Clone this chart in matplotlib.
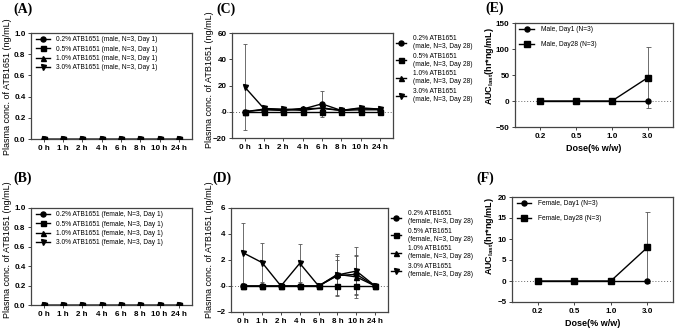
import matplotlib.pyplot as plt

plt.rcParams['font.family'] = ['Liberation Sans', 'DejaVu Sans']

# ---- data ----
time_labels = ['0 h', '1 h', '2 h', '4 h', '6 h', '8 h', '10 h', '24 h']
dose_labels = ['0.2%', '0.5%', '1.0%', '3.0%']
dose_ticks = ['0.2', '0.5', '1.0', '3.0']

# Day 1: nothing detected
male_d1 = [[0, 0, 0, 0, 0, 0, 0, 0]] * 4
female_d1 = [[0, 0, 0, 0, 0, 0, 0, 0]] * 4

# Day 28, rows = 0.2 / 0.5 / 1.0 / 3.0 %
male_d28 = [[0, 1.5, 1.0, 2.0, 6.0, 1.0, 1.5, 1.5],
            [0, 0, 0, 0, 0, 0, 0, 0],
            [0, 2.0, 1.5, 2.5, 2.5, 1.0, 2.5, 2.0],
            [19.0, 2.5, 2.0, 1.0, 3.0, 1.0, 3.0, 2.0]]
male_d28_sd = [[0, 0, 0, 0, 10.0, 0, 0, 0],
               [0, 0, 0, 0, 0, 0, 0, 0],
               [0, 0, 0, 0, 0, 0, 0, 0],
               [33.0, 0, 0, 0, 0, 0, 0, 0]]
female_d28 = [[0, 0, 0, 0, 0, 0.8, 0.9, 0],
              [0, 0, 0, 0, 0, 0, 0, 0],
              [0, 0, 0, 0, 0, 0.9, 0.7, 0],
              [2.55, 1.8, 0, 1.75, 0, 0.85, 1.15, 0]]
female_d28_sd = [[0, 0, 0, 0, 0, 1.5, 1.5, 0],
                 [0, 0, 0, 0, 0, 0, 0, 0],
                 [0, 0, 0, 0, 0, 1.1, 1.6, 0],
                 [2.3, 1.5, 0, 1.45, 0, 1.65, 1.85, 0]]

# AUC last by dose
male_auc_d1 = [0, 0, 0, 0]
male_auc_d28 = [0, 0, 0, 45]
male_auc_d28_sd = [0, 0, 0, 58]
female_auc_d1 = [0, 0, 0, 0]
female_auc_d28 = [0, 0, 0, 8]
female_auc_d28_sd = [0, 0, 0, 8.5]

markers = ['o', 's', '^', 'v']
W, H = 676, 332
fig = plt.figure(figsize=(W / 100, H / 100), dpi=100)
frame_col = '#444444'
err_col = '#555555'


def px_axes(x0, y0, x1, y1):
    return fig.add_axes([x0 / W, 1 - y1 / H, (x1 - x0) / W, (y1 - y0) / H])


def style(ax):
    for s in ax.spines.values():
        s.set_color(frame_col)
        s.set_linewidth(0.9)
    ax.tick_params(length=2.5, width=0.7, color=frame_col, pad=1.5)
    for lab in ax.get_xticklabels() + ax.get_yticklabels():
        lab.set_fontsize(5.8)
        lab.set_fontweight('bold')


def fig_label(x, y, s):
    fig.text(x / W, 1 - y / H, s, family='Liberation Serif', weight='bold',
             size=10, va='center', ha='left')


def ylab(x, y, s, **kw):
    fig.text(x / W, 1 - y / H, s, rotation=90, ha='center', va='center', size=6.5, **kw)


def time_panel(box, ylim, yticks, means, sds, sex, day, inner):
    ax = px_axes(*box)
    xs = list(range(len(time_labels)))
    ax.axhline(0, xmin=-0.07 if not inner else 0, xmax=1.0, color='#666666',
               lw=0.7, ls=(0, (1, 2)), clip_on=False, zorder=1)
    handles = []
    for i, (m, mk) in enumerate(zip(means, markers)):
        if sds is not None:
            ax.errorbar(xs, m, yerr=sds[i], fmt='none', ecolor=err_col,
                        elinewidth=0.6, capsize=1.5, capthick=0.6, zorder=2)
        h, = ax.plot(xs, m, color='black', lw=1.0, marker=mk, ms=3.6, zorder=3)
        handles.append(h)
    ax.set_xlim(-0.65, 7.68)
    ax.set_ylim(*ylim)
    ax.set_yticks(yticks)
    ax.set_xticks(xs)
    ax.set_xticklabels(time_labels)
    if ylim[1] == 1.0:
        ax.set_yticklabels(['%.1f' % v for v in yticks])
    style(ax)
    if inner:
        labels = ['%s ATB1651 (%s, N=3, Day %d)' % (d, sex, day) for d in dose_labels]
        ax.legend(handles, labels, loc='upper left', bbox_to_anchor=(0.02, 0.98),
                  frameon=False, fontsize=4.8, handlelength=2.2, handletextpad=0.9,
                  labelspacing=0.35, borderaxespad=0, borderpad=0.2)
    else:
        labels = ['%s ATB1651\n(%s, N=3, Day %d)' % (d, sex, day) for d in dose_labels]
        ax.legend(handles, labels, loc='upper left',
                  bbox_to_anchor=((box[2] + 3) / W, 1 - (box[1] + 2) / H),
                  bbox_transform=fig.transFigure, frameon=False, fontsize=4.8,
                  handlelength=1.5, handletextpad=1.0, labelspacing=0.4,
                  borderaxespad=0, borderpad=0)
    return ax


def auc_panel(box, ylim, yticks, d1, d28, d28_sd, sex):
    ax = px_axes(*box)
    xs = list(range(len(dose_ticks)))
    ax.axhline(0, color='#666666', lw=0.7, ls=(0, (1, 2)), zorder=1)
    ax.errorbar(xs, d28, yerr=d28_sd, fmt='none', ecolor=err_col,
                elinewidth=0.6, capsize=1.8, capthick=0.6, zorder=2)
    h1, = ax.plot(xs, d1, color='black', lw=1.0, marker='o', ms=3.6, zorder=3)
    h2, = ax.plot(xs, d28, color='black', lw=1.0, marker='s', ms=3.8, zorder=3)
    ax.set_xlim(-0.7, 3.7)
    ax.set_ylim(*ylim)
    ax.set_yticks(yticks)
    ax.set_xticks(xs)
    ax.set_xticklabels(dose_ticks)
    style(ax)
    ax.legend([h1, h2], ['%s, Day1 (N=3)' % sex, '%s, Day28 (N=3)' % sex],
              loc='upper left', bbox_to_anchor=(0.02, 0.98), frameon=False,
              fontsize=4.8, handlelength=2.2, handletextpad=1.0,
              labelspacing=1.2, borderaxespad=0, borderpad=0.2)
    ax.set_xlabel('Dose(% w/w)', fontsize=6.5, fontweight='bold', labelpad=3)
    return ax


# (A) / (B) day 1
time_panel((31, 33, 192, 139), (0, 1.0), [0, 0.2, 0.4, 0.6, 0.8, 1.0],
           male_d1, None, 'male', 1, True)
time_panel((31, 208, 192, 305), (0, 1.0), [0, 0.2, 0.4, 0.6, 0.8, 1.0],
           female_d1, None, 'female', 1, True)
# (C) / (D) day 28
time_panel((232, 33, 393, 138), (-20, 60), [-20, 0, 20, 40, 60],
           male_d28, male_d28_sd, 'male', 28, False)
time_panel((231, 208, 388, 312), (-2, 6), [-2, 0, 2, 4, 6],
           female_d28, female_d28_sd, 'female', 28, False)
# (E) / (F) AUC
auc_panel((515, 23, 673, 127), (-50, 150), [-50, 0, 50, 100, 150],
          male_auc_d1, male_auc_d28, male_auc_d28_sd, 'Male')
auc_panel((512, 197, 673, 302), (-5, 20), [-5, 0, 5, 10, 15, 20],
          female_auc_d1, female_auc_d28, female_auc_d28_sd, 'Female')

for x, y, s in [(13, 9, '(A)'), (13, 178, '(B)'), (216, 9, '(C)'),
                (212, 178, '(D)'), (485, 8, '(E)'), (476, 178, '(F)')]:
    fig_label(x, y, s)

yl = 'Plasma conc. of ATB1651 (ng/mL)'
ylab(8, 87, yl)
ylab(8, 250, yl)
ylab(209, 80, yl)
ylab(210, 250, yl)
auc = r'AUC$_{\mathregular{last}}$(hr*ng/mL)'
ylab(489, 66, auc, weight='bold')
ylab(489, 236, auc, weight='bold')

fig.savefig('out.png', dpi=100)
